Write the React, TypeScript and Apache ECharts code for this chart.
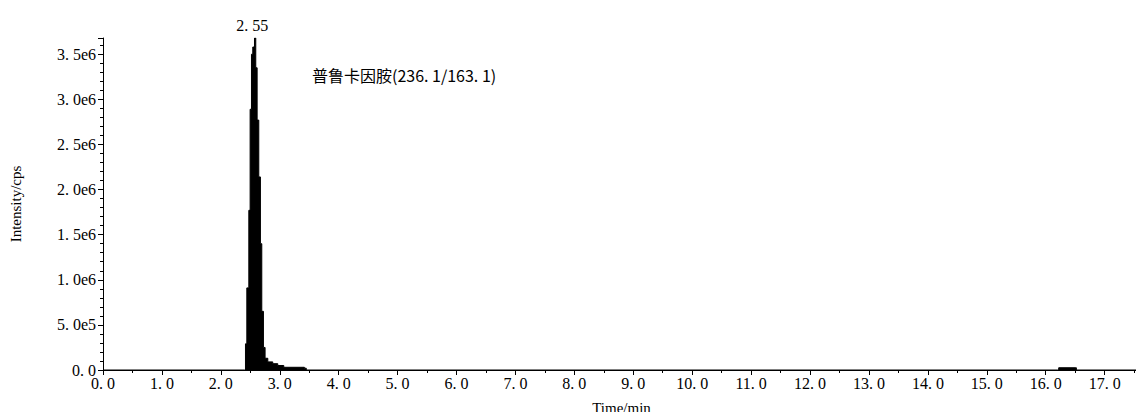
import { useEffect, useRef } from 'react';
import * as echarts from 'echarts';

// retention time (min) and intensity (cps)
const times = [
  0, 2.4, 2.418, 2.441, 2.475, 2.497, 2.52, 2.542, 2.571, 2.593, 2.616, 2.644, 2.672, 2.695, 2.723,
  2.751, 2.797, 2.881, 2.966, 3.068, 3.418, 3.45, 16.2, 16.22, 16.5, 16.52, 17.6,
];
const intensities = [
  0, 0, 290000, 910000, 1770000, 2890000, 3500000, 3580000, 3680000, 3350000, 2770000, 2140000,
  1400000, 650000, 250000, 130000, 90000, 70000, 50000, 30000, 20000, 0, 0, 25000, 25000, 0, 0,
];

const peakTime = 2.571;
const peakLabel = '2. 55';
const compoundLabel = '普鲁卡因胺(236. 1/163. 1)';

const serif = '"Liberation Serif", "DejaVu Serif", serif';
const cjk = '"Noto Sans CJK SC", "Liberation Serif", serif';

const fmt = (v: number, sci: boolean) => {
  if (!sci || v === 0) return v.toFixed(1).replace('.', '. ');
  const exp = Math.floor(Math.log10(v));
  const m = v / Math.pow(10, exp);
  return `${m.toFixed(1).replace('.', '. ')}e${exp}`;
};

export default function App() {
  const chartRef = useRef<HTMLDivElement>(null);

  useEffect(() => {
    if (!chartRef.current) return;
    const chart = echarts.init(chartRef.current, undefined, { renderer: 'svg' });

    const axisCommon = {
      axisLine: { show: true, lineStyle: { color: '#000', width: 1 } },
      axisTick: { show: true, length: 5, lineStyle: { color: '#000' } },
      minorTick: { show: true, length: 3, lineStyle: { color: '#000' } },
      splitLine: { show: false },
      axisLabel: { color: '#000', fontFamily: serif, fontSize: 16 },
      nameTextStyle: { color: '#000', fontFamily: serif, fontSize: 15 },
    };

    chart.setOption({
      animation: false,
      backgroundColor: '#fff',
      grid: { left: 98, right: 4, top: 38, bottom: 47 },
      xAxis: {
        ...axisCommon,
        type: 'value',
        min: 0,
        max: 17.6,
        interval: 1,
        minorTick: { ...axisCommon.minorTick, splitNumber: 2 },
        name: 'Time/min',
        nameLocation: 'middle',
        nameGap: 30,
        axisLabel: { ...axisCommon.axisLabel, margin: 5, showMaxLabel: false, formatter: (v: number) => fmt(v, false) },
      },
      yAxis: {
        ...axisCommon,
        type: 'value',
        min: 0,
        max: 3680000,
        interval: 500000,
        minorTick: { ...axisCommon.minorTick, splitNumber: 5 },
        name: 'Intensity/cps',
        nameLocation: 'middle',
        nameGap: 80,
        axisLabel: { ...axisCommon.axisLabel, margin: 7, showMaxLabel: false, formatter: (v: number) => fmt(v, true) },
      },
      series: [
        {
          type: 'line',
          step: 'end',
          symbol: 'none',
          data: times.map((t, i) => [t, intensities[i]]),
          lineStyle: { color: '#000', width: 1 },
          areaStyle: { color: '#000', opacity: 1 },
          markPoint: {
            symbol: 'circle',
            symbolSize: 0,
            data: [{ coord: [peakTime - 0.04, 3680000] }],
            label: {
              show: true,
              formatter: peakLabel,
              position: 'top',
              distance: 5,
              color: '#000',
              fontFamily: serif,
              fontSize: 16,
            },
          },
        },
      ],
      graphic: [
        {
          type: 'text',
          left: 312,
          top: 67,
          style: { text: compoundLabel, fill: '#000', font: `16px ${cjk}` },
        },
      ],
    });

    return () => chart.dispose();
  }, []);

  return <div ref={chartRef} style={{ width: 1144, height: 420, margin: -8 }} />;
}
